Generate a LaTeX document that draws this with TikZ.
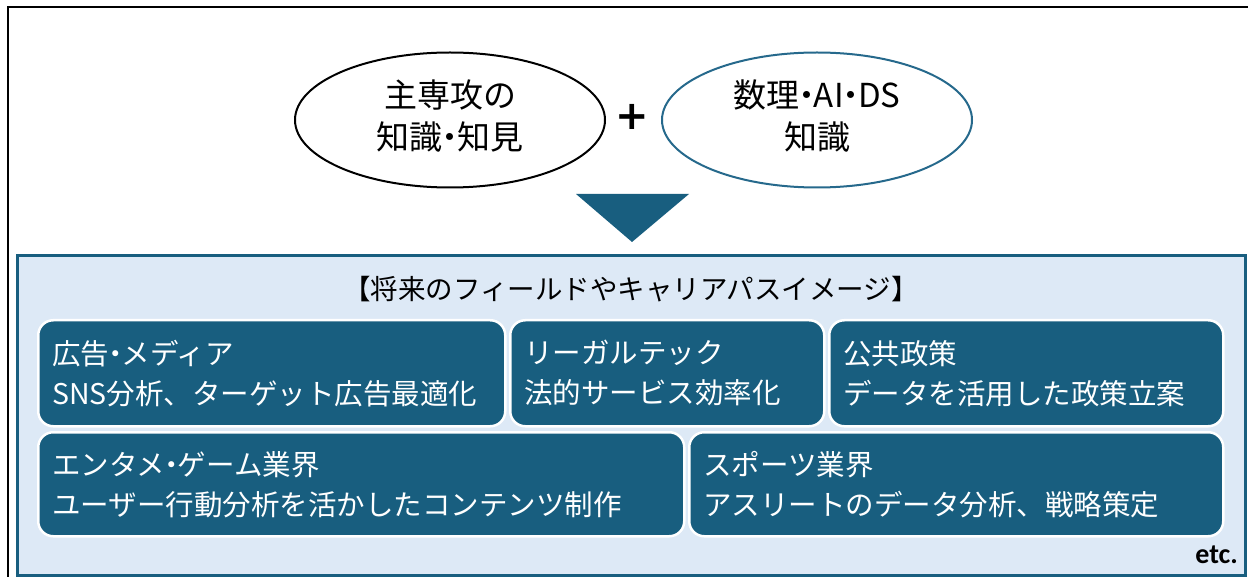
\documentclass[tikz,border=0pt]{standalone}
\usepackage{fontspec}
\usetikzlibrary{shapes.geometric}
\newfontfamily\jp{Noto Sans CJK JP}
\newfontfamily\plusfont{DejaVu Sans}
\newfontfamily\etcfont{Carlito}
\newcommand\ndot{\hspace{-0.28em}・\hspace{-0.28em}}
\definecolor{teal1}{RGB}{24,94,127}
\definecolor{tealline}{RGB}{38,105,140}
\definecolor{lightbg}{RGB}{221,233,246}
\tikzset{
  oval/.style={ellipse, line width=2pt, minimum width=310pt, minimum height=135pt, align=center, font=\jp\fontsize{33}{42}\selectfont, inner sep=0pt},
  fieldbox/.style={rectangle, rounded corners=15pt, fill=teal1, draw=white, line width=2.5pt, text=white,
    align=left, font=\jp\fontsize{28.5}{40}\selectfont, inner xsep=14pt, inner ysep=0pt, anchor=north west},
}
\begin{document}
\begin{tikzpicture}[x=1pt,y=-1pt]
\useasboundingbox (0,0) rectangle (1248,577);
\fill[white] (0,0) rectangle (1248,577);
% outer frame
\draw[line width=2.5pt] (1260,7) -- (8,7) -- (8,590);
% ellipses
\node[oval, draw=black] (major) at (450,120) {};
\node[oval, draw=tealline] (math) at (817,120) {};
\node[font=\jp\fontsize{33}{42}\selectfont, align=center, inner sep=0pt] (majort) at (450,116) {主専攻の\\知識\ndot 知見};
\node[font=\jp\fontsize{33}{42}\selectfont, align=center, inner sep=0pt] (matht) at (817,116) {数理\ndot AI\ndot DS\\知識};
\node[font=\plusfont\bfseries\fontsize{40}{40}\selectfont, inner sep=0pt] (plus) at (632,117) {+};
% triangle
\fill[teal1] (576,194) -- (689,194) -- (632,242) -- cycle;
% big box
\node[rectangle, draw=teal1, fill=lightbg, line width=3pt, minimum width=1228pt, minimum height=320pt, anchor=north west, inner sep=0pt] (frame) at (16,254) {};
\node[font=\jp\fontsize{27.5}{30}\selectfont, inner sep=0pt] (title) at (631,289) {【将来のフィールドやキャリアパスイメージ】};
% field boxes
\node[fieldbox, text width=439pt, minimum height=106pt] (ad) at (37,319) {広告\ndot メディア\\SNS分析、ターゲット広告最適化};
\node[fieldbox, text width=286pt, minimum height=106pt] (legal) at (509,319) {リーガルテック\\法的サービス効率化};
\node[fieldbox, text width=366pt, minimum height=106pt] (policy) at (828,319) {公共政策\\データを活用した政策立案};
\node[fieldbox, text width=618pt, minimum height=104pt] (ent) at (37,431) {エンタメ\ndot ゲーム業界\\ユーザー行動分析を活かしたコンテンツ制作};
\node[fieldbox, text width=506pt, minimum height=104pt] (sport) at (688,431) {スポーツ業界\\アスリートのデータ分析、戦略策定};
\node[font=\etcfont\bfseries\fontsize{28}{28}\selectfont, anchor=east, inner sep=0pt] (etc) at (1238,555) {etc.};
\end{tikzpicture}
\end{document}
